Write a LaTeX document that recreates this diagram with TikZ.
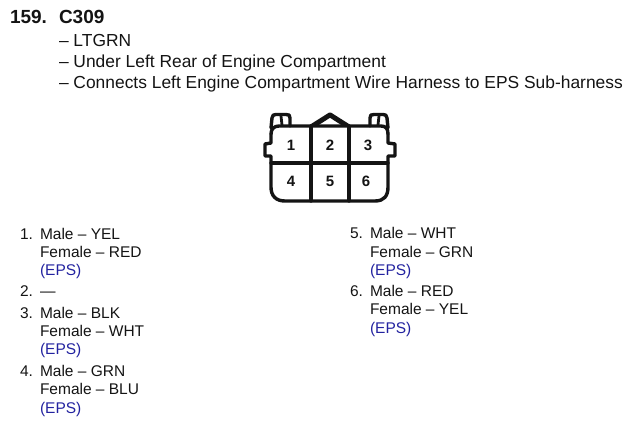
\documentclass[tikz,border=0pt]{standalone}
\usepackage{fontspec}
\setmainfont{Liberation Sans}
\definecolor{epsblue}{RGB}{35,35,160}
\definecolor{ink}{RGB}{20,20,20}
\tikzset{
  txt/.style={anchor=base west,inner sep=0pt,outer sep=0pt,text=ink,font=\fontsize{15.5}{18}\selectfont},
  sub/.style={txt,font=\fontsize{17.4}{20}\selectfont},
  head/.style={anchor=base west,inner sep=0pt,outer sep=0pt,text=ink,font=\fontsize{19}{22}\selectfont\bfseries},
  eps/.style={txt,text=epsblue},
  pin/.style={anchor=center,inner sep=0pt,text=ink,font=\fontsize{15}{18}\selectfont\bfseries},
  conn/.style={draw=ink,line width=3.4pt,line join=round,line cap=round},
}
\begin{document}
\begin{tikzpicture}[x=1pt,y=-1pt]
\useasboundingbox (0,0) rectangle (630,438);
\fill[white] (0,0) rectangle (630,438);
\node[head] (n159) at (10,24) {159.};
\node[head] (c309) at (59,24) {C309};
\node[sub] (l1) at (59,47) {– LTGRN};
\node[sub] (l2) at (59,68) {– Under Left Rear of Engine Compartment};
\node[sub] (l3) at (59,89) {– Connects Left Engine Compartment Wire Harness to EPS Sub-harness};
% connector
\draw[conn] (279,126) -- (381,126)
  (271,134) .. controls (271,129) and (274,126) .. (279,126)
  (381,126) .. controls (386,126) and (388,129) .. (388,134);
\draw[conn] (271,134) -- (271,143) -- (265,144) -- (265,156) -- (271,156) -- (271,187)
  .. controls (271,196) and (276,201) .. (285,201) -- (375,201)
  .. controls (384,201) and (388,196) .. (388,187) -- (388,156) -- (395,156) -- (395,144) -- (388,143) -- (388,134);
\draw[conn] (311,126) -- (311,201) (349,126) -- (349,201) (271,163) -- (388,163);
\draw[conn] (311,126) -- (330,114) -- (349,126);
\draw[draw=ink,line width=3pt,line join=round] (316,125) -- (330,116) -- (344,125);
\draw[conn] (271,128) -- (272,118) .. controls (272,115) and (274,114.5) .. (276,114.5) -- (286,114.5) .. controls (289,114.5) and (290,115) .. (290,118) -- (290,126);
\draw[conn,line width=2.8pt] (281,116) -- (282,125);
\draw[conn] (388,128) -- (387,118) .. controls (387,115) and (385,114.5) .. (383,114.5) -- (374,114.5) .. controls (371,114.5) and (370,115) .. (370,118) -- (370,126);
\draw[conn,line width=2.8pt] (379,116) -- (378,125);
\node[pin] (p1) at (291,145) {1};
\node[pin] (p2) at (330,145) {2};
\node[pin] (p3) at (368,145) {3};
\node[pin] (p4) at (291,181) {4};
\node[pin] (p5) at (330,181) {5};
\node[pin] (p6) at (366,181) {6};
% left list
\node[txt] (a1) at (20,239.5) {1.};
\node[txt] (a1m) at (40,239.5) {Male – YEL};
\node[txt] (a1f) at (40,257.5) {Female – RED};
\node[eps] (a1e) at (40,275.5) {(EPS)};
\node[txt] (a2) at (20,296.5) {2.};
\node[txt] (a2m) at (40,296.5) {—};
\node[txt] (a3) at (20,318.5) {3.};
\node[txt] (a3m) at (40,318.5) {Male – BLK};
\node[txt] (a3f) at (40,336.5) {Female – WHT};
\node[eps] (a3e) at (40,354.5) {(EPS)};
\node[txt] (a4) at (20,376.5) {4.};
\node[txt] (a4m) at (40,376.5) {Male – GRN};
\node[txt] (a4f) at (40,394.5) {Female – BLU};
\node[eps] (a4e) at (40,413.5) {(EPS)};
% right list
\node[txt] (b5) at (350,238.5) {5.};
\node[txt] (b5m) at (370,238.5) {Male – WHT};
\node[txt] (b5f) at (370,257.5) {Female – GRN};
\node[eps] (b5e) at (370,275.5) {(EPS)};
\node[txt] (b6) at (350,296.5) {6.};
\node[txt] (b6m) at (370,296.5) {Male – RED};
\node[txt] (b6f) at (370,314.5) {Female – YEL};
\node[eps] (b6e) at (370,333.5) {(EPS)};
\end{tikzpicture}
\end{document}
